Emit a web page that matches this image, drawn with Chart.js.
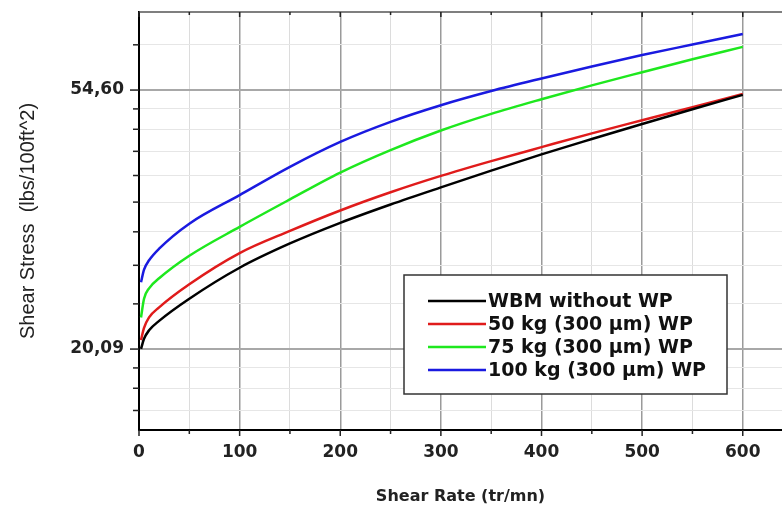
<!DOCTYPE html>
<html>
<head>
<meta charset="utf-8">
<script src="https://cdn.jsdelivr.net/npm/chart.js@4"></script>
<style>
  html, body { margin: 0; padding: 0; background: #fff; }
  #wrap { width: 782px; height: 510px; }
</style>
</head>
<body>
<div id="wrap"><canvas id="chart" width="782" height="510"></canvas></div>
<script>
// data
const shearRate = [2, 5, 10, 20, 50, 100, 150, 200, 250, 300, 350, 400, 450, 500, 550, 600];
const wbm   = [20.1, 20.9, 21.6, 22.4, 24.4, 27.5, 30.2, 32.7, 35.1, 37.5, 40.0, 42.6, 45.2, 47.9, 50.7, 53.6];
const wp50  = [20.8, 21.8, 22.7, 23.6, 25.8, 29.1, 31.7, 34.3, 36.8, 39.2, 41.5, 43.8, 46.2, 48.6, 51.1, 53.8];
const wp75  = [22.7, 24.4, 25.4, 26.4, 28.8, 32.2, 35.8, 39.7, 43.3, 46.7, 49.8, 52.7, 55.6, 58.5, 61.5, 64.5];
const wp100 = [26.0, 27.3, 28.3, 29.6, 32.6, 36.4, 40.6, 44.7, 48.3, 51.5, 54.4, 57.1, 59.8, 62.5, 65.1, 67.8];

const seriesNames  = ['WBM without WP', '50 kg (300 \u00b5m) WP', '75 kg (300 \u00b5m) WP', '100 kg (300 \u00b5m) WP'];
const seriesColors = ['#000000', '#e01b1b', '#1ee81e', '#1a1ae0'];

// axis ticks
const xTicks = [0, 50, 100, 150, 200, 250, 300, 350, 400, 450, 500, 550, 600];
const xLabels = ['0', '', '100', '', '200', '', '300', '', '400', '', '500', '', '600'];
const yMajor = [20.09, 54.60];
const yMajorLabels = ['20,09', '54,60'];
// minor ticks of the ln scale: 9 equal steps between e^n and e^(n+1)
const yMinor = [15.85, 17.27, 18.68, 23.92, 27.76, 31.59, 35.43, 39.26, 43.10, 46.93, 50.77, 65.02];

const FONT = '"DejaVu Sans", sans-serif';

function points(ys) {
    return shearRate.map((x, i) => ({ x: x, y: ys[i] }));
}

const allSeries = [wbm, wp50, wp75, wp100];

// ticks, frame and legend drawn on top
const framePlugin = {
    id: 'frame',
    afterDraw(chart) {
        const c = chart.ctx;
        const area = chart.chartArea;
        const xs = chart.scales.x;
        const ys = chart.scales.y;
        c.save();
        // top frame line
        c.strokeStyle = '#555';
        c.lineWidth = 1.5;
        c.beginPath();
        c.moveTo(area.left, area.top);
        c.lineTo(area.right, area.top);
        c.stroke();
        // x ticks, bottom (outside) and top (inside)
        c.strokeStyle = '#222';
        c.lineWidth = 1.5;
        xTicks.forEach((v, i) => {
            const px = xs.getPixelForValue(v);
            const len = xLabels[i] ? 6 : 4;
            c.beginPath();
            c.moveTo(px, area.bottom);
            c.lineTo(px, area.bottom + len);
            c.moveTo(px, area.top);
            c.lineTo(px, area.top + len - 1);
            c.stroke();
        });
        // y ticks, outside
        yMajor.concat(yMinor).forEach(v => {
            const py = ys.getPixelForValue(v);
            if (py < area.top || py > area.bottom) return;
            const len = yMajor.includes(v) ? 9 : 6;
            c.beginPath();
            c.moveTo(area.left, py);
            c.lineTo(area.left - len, py);
            c.stroke();
        });
        // legend box
        const bx = 404, by = 275, bw = 323, bh = 119;
        c.fillStyle = '#fff';
        c.fillRect(bx, by, bw, bh);
        c.strokeStyle = '#333';
        c.lineWidth = 1.5;
        c.strokeRect(bx, by, bw, bh);
        c.font = 'bold 19px ' + FONT;
        c.textBaseline = 'middle';
        c.textAlign = 'left';
        chart.data.datasets.forEach((ds, i) => {
            const ry = 301 + i * 23;
            c.strokeStyle = ds.borderColor;
            c.lineWidth = 2.5;
            c.beginPath();
            c.moveTo(428, ry);
            c.lineTo(486, ry);
            c.stroke();
            c.fillStyle = '#111';
            c.fillText(ds.label, 488, ry + 1);
        });
        c.restore();
    }
};

const bgPlugin = {
    id: 'bg',
    beforeDraw(chart) {
        const c = chart.ctx;
        c.save();
        c.fillStyle = '#fff';
        c.fillRect(0, 0, chart.width, chart.height);
        c.restore();
    }
};

const ctx = document.getElementById('chart').getContext('2d');
const chart = new Chart(ctx, {
    type: 'line',
    data: {
        datasets: allSeries.map((s, i) => ({
            label: seriesNames[i],
            data: points(s),
            borderColor: seriesColors[i],
            backgroundColor: seriesColors[i],
            borderWidth: 2.5,
            pointRadius: 0,
            fill: false,
            cubicInterpolationMode: 'monotone'
        }))
    },
    options: {
        responsive: false,
        animation: false,
        events: [],
        layout: { padding: { left: 0, right: 0, top: 12, bottom: 0 } },
        plugins: {
            legend: { display: false },
            tooltip: { enabled: false }
        },
        scales: {
            x: {
                type: 'linear',
                min: 0,
                max: 639,
                afterBuildTicks: (scale) => {
                    scale.ticks = xTicks.map(v => ({ value: v }));
                },
                afterFit: (scale) => {
                    scale.height = 80;
                    scale.paddingRight = 0;
                },
                grid: {
                    drawTicks: false,
                    color: (c) => (c.tick && c.tick.value % 100 === 0) ? '#9a9a9a' : '#dcdcdc',
                    lineWidth: (c) => (c.tick && c.tick.value % 100 === 0) ? 1.5 : 1
                },
                border: { display: true, color: '#000', width: 2 },
                ticks: {
                    padding: 12,
                    maxRotation: 0,
                    autoSkip: false,
                    color: '#222',
                    font: { family: FONT, size: 17, weight: 'bold' },
                    callback: (v, i) => xLabels[i]
                },
                title: {
                    display: true,
                    text: 'Shear Rate (tr/mn)',
                    color: '#222',
                    font: { family: FONT, size: 16, weight: 'bold' },
                    padding: { top: 0, bottom: 4 }
                }
            },
            y: {
                type: 'logarithmic',
                min: 14.7,
                max: 73.8,
                afterBuildTicks: (scale) => {
                    const vals = yMinor.concat(yMajor).sort((a, b) => a - b);
                    scale.ticks = vals.map(v => ({ value: v, major: yMajor.includes(v) }));
                },
                afterFit: (scale) => {
                    scale.width = 139;
                    scale.paddingTop = 0;
                    scale.paddingBottom = 0;
                },
                grid: {
                    drawTicks: false,
                    color: (c) => (c.tick && yMajor.includes(c.tick.value)) ? '#a8a8a8' : '#e6e6e6',
                    lineWidth: (c) => (c.tick && yMajor.includes(c.tick.value)) ? 2 : 1
                },
                border: { display: true, color: '#000', width: 2 },
                ticks: {
                    padding: 15,
                    autoSkip: false,
                    color: '#222',
                    font: { family: FONT, size: 17, weight: 'bold' },
                    callback: (v) => {
                        const k = yMajor.indexOf(v);
                        return k >= 0 ? yMajorLabels[k] : '';
                    }
                },
                title: {
                    display: true,
                    text: 'Shear Stress  (lbs/100ft^2)',
                    color: '#222',
                    font: { family: '"Liberation Sans", Arial, sans-serif', size: 20, weight: 'normal' },
                    padding: { top: 16, bottom: 0 }
                }
            }
        }
    },
    plugins: [bgPlugin, framePlugin]
});
</script>
</body>
</html>
